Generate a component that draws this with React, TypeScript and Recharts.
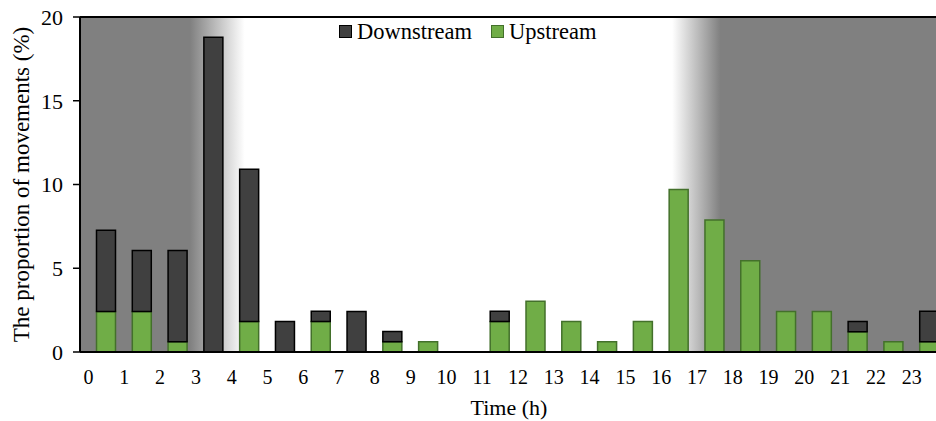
import React from "react";
import {
  BarChart,
  Bar,
  XAxis,
  YAxis,
  CartesianGrid,
  Legend,
  ReferenceLine,
  Label,
} from "recharts";

const hours = ["0", "1", "2", "3", "4", "5", "6", "7", "8", "9", "10", "11", "12", "13", "14", "15", "16", "17", "18", "19", "20", "21", "22", "23"];
const upstream = [2.42, 2.42, 0.61, 0, 1.82, 0, 1.82, 0, 0.61, 0.61, 0, 1.82, 3.03, 1.82, 0.61, 1.82, 9.7, 7.88, 5.45, 2.42, 2.42, 1.21, 0.61, 0.61];
const downstream = [4.85, 3.64, 5.45, 18.79, 9.09, 1.82, 0.61, 2.42, 0.61, 0, 0, 0.61, 0, 0, 0, 0, 0, 0, 0, 0, 0, 0.61, 0, 1.82];
const yTicks = [0, 5, 10, 15, 20];
const legendOrder = ["Downstream", "Upstream"];

const data = hours.map((h, i) => ({ hour: h, Upstream: upstream[i], Downstream: downstream[i] }));

const FONT = '"Liberation Serif", "DejaVu Serif", "Noto Serif", Tinos, "Times New Roman", Times, serif';
const CHART_W = 970;
const CHART_H = 421;
const MARGIN = { top: 17, right: 14, bottom: 0, left: 16 };
const Y_W = 64;
const PAD = 8.5;
const PLOT_W = CHART_W - MARGIN.left - Y_W - MARGIN.right;
const BAND = (PLOT_W - 2 * PAD) / hours.length;

const strokes: Record<string, string> = {
  Downstream: "#000000",
  Upstream: "#43702b",
};

// labels sit on the hour boundaries, not under the bars
const XTick = (props: any) => {
  const { x, y, payload } = props;
  return (
    <text x={x - BAND / 2} y={y} dy={15.5} textAnchor="middle" fill="#000" fontSize={20} style={{ fontFamily: FONT }}>
      {payload.value}
    </text>
  );
};

const LegendContent = (props: any) => {
  const items = [...(props.payload || [])].sort(
    (a: any, b: any) => legendOrder.indexOf(a.value) - legendOrder.indexOf(b.value)
  );
  return (
    <div style={{ display: "flex", alignItems: "flex-start", fontFamily: FONT, fontSize: 22.5, lineHeight: "22px", color: "#000" }}>
      {items.map((it: any, i: number) => (
        <div key={it.value} style={{ display: "flex", alignItems: "flex-start", marginLeft: i === 0 ? 0 : 19 }}>
          <span
            style={{
              display: "inline-block",
              boxSizing: "border-box",
              width: 13,
              height: 13,
              marginTop: 4,
              marginRight: 5,
              background: it.color,
              border: `1.5px solid ${strokes[it.value]}`,
            }}
          />
          <span style={{ whiteSpace: "nowrap" }}>{it.value}</span>
        </div>
      ))}
    </div>
  );
};

export default function App() {
  return (
    <div style={{ position: "fixed", top: 0, left: 0, width: 936, height: 421, overflow: "hidden", background: "#fff", fontFamily: FONT }}>
      <BarChart width={CHART_W} height={CHART_H} data={data} margin={MARGIN} style={{ fontFamily: FONT }}>
        <defs>
          <linearGradient id="nightBg" x1="0" y1="0" x2="1" y2="0">
            <stop offset="0" stopColor="#808080" />
            <stop offset="0.1256" stopColor="#808080" />
            <stop offset="0.188" stopColor="#ffffff" />
            <stop offset="0.676" stopColor="#ffffff" />
            <stop offset="0.731" stopColor="#808080" />
            <stop offset="1" stopColor="#808080" />
          </linearGradient>
        </defs>
        <CartesianGrid horizontal={false} vertical={false} fill="url(#nightBg)" />
        <XAxis
          dataKey="hour"
          type="category"
          interval={0}
          padding={{ left: PAD, right: PAD }}
          tickLine={false}
          tickSize={6}
          tickMargin={10}
          axisLine={{ stroke: "#000", strokeWidth: 2 }}
          tick={<XTick />}
          height={69}
        >
          <Label value="Time (h)" position="insideBottom" offset={6} dx={-9} fill="#000" fontSize={22} style={{ fontFamily: FONT }} />
        </XAxis>
        <YAxis
          type="number"
          domain={[0, 20]}
          ticks={yTicks}
          width={Y_W}
          tickSize={7}
          tickMargin={10}
          axisLine={{ stroke: "#000", strokeWidth: 2 }}
          tickLine={{ stroke: "#000", strokeWidth: 1.5 }}
          tick={{ fill: "#000", fontSize: 22, style: { fontFamily: FONT } }}
        >
          <Label
            value="The proportion of movements (%)"
            angle={-90}
            position="insideLeft"
            offset={5}
            fill="#000"
            fontSize={23}
            style={{ textAnchor: "middle", fontFamily: FONT }}
          />
        </YAxis>
        <ReferenceLine y={20} stroke="#000" strokeWidth={2} />
        <Legend
          layout="vertical"
          align="center"
          verticalAlign="middle"
          wrapperStyle={{ top: 21, left: 339, width: "auto" }}
          content={<LegendContent />}
        />
        <Bar dataKey="Upstream" stackId="a" barSize={19} fill="#70ad47" stroke={strokes.Upstream} strokeWidth={1.5} isAnimationActive={false} />
        <Bar dataKey="Downstream" stackId="a" barSize={19} fill="#404040" stroke={strokes.Downstream} strokeWidth={1.5} isAnimationActive={false} />
      </BarChart>
    </div>
  );
}
